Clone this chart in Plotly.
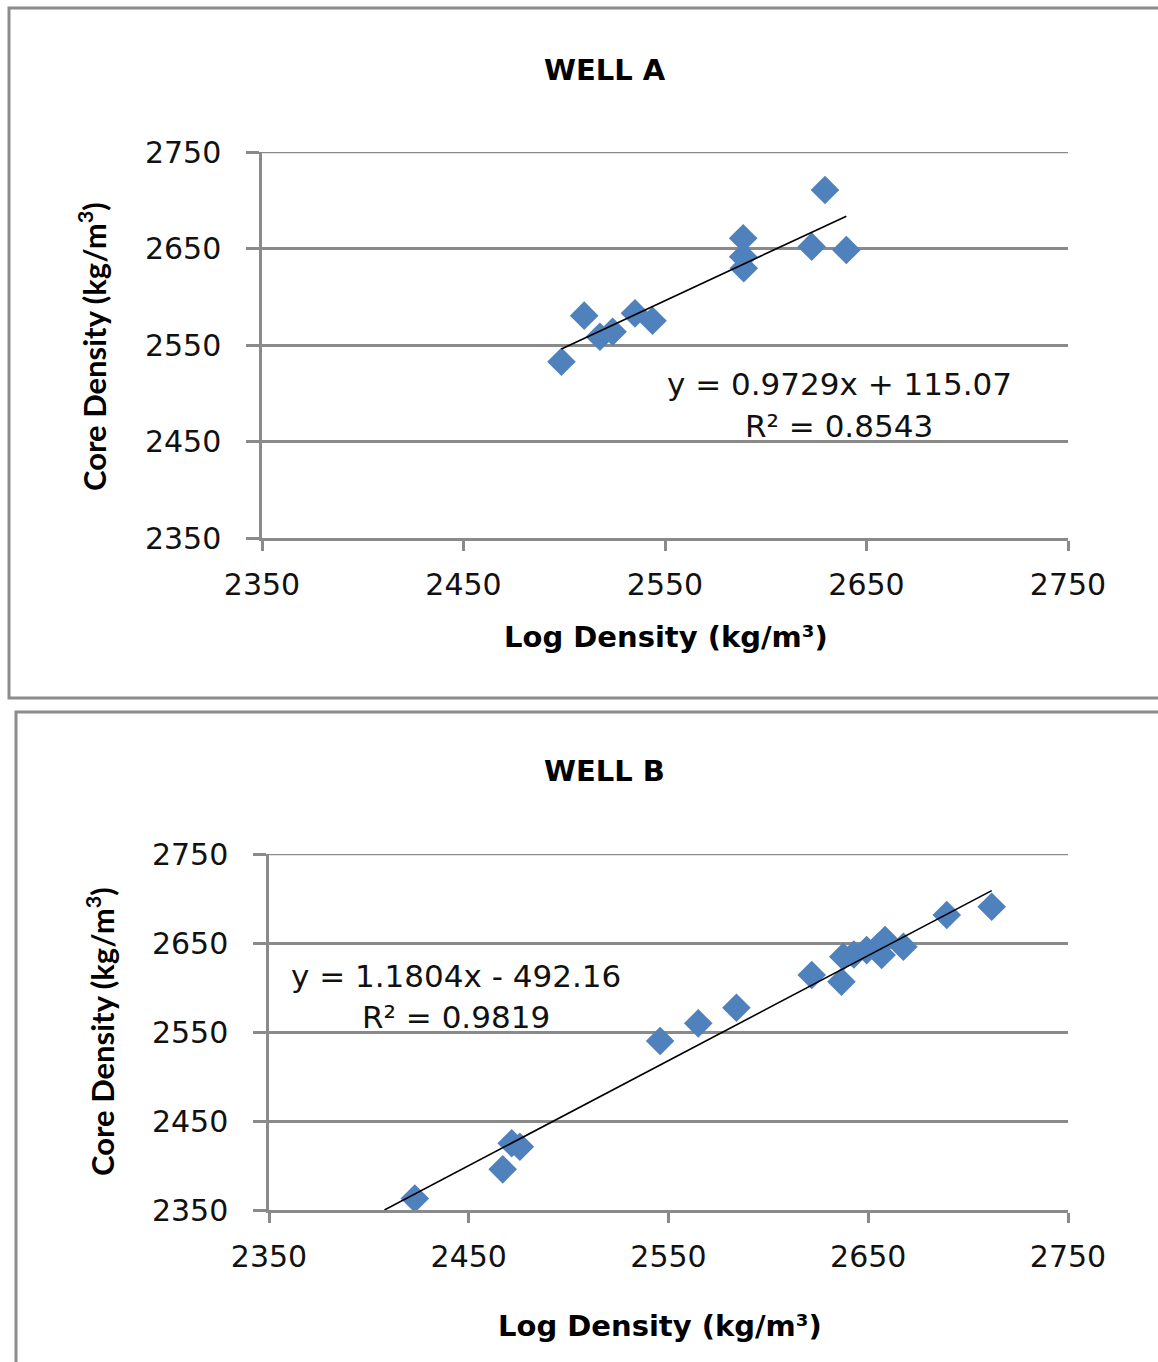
import plotly.graph_objects as go

# ---------------- data ----------------
tick_vals = [2350, 2450, 2550, 2650, 2750]
tick_text = ["2350", "2450", "2550", "2650", "2750"]

well_a_log = [2498.6, 2509.9, 2517.7, 2524.0, 2535.1, 2543.8, 2588.8, 2588.8, 2589.1, 2622.8, 2629.4, 2640.0]
well_a_core = [2532.7, 2580.4, 2558.6, 2563.8, 2582.8, 2575.2, 2660.6, 2641.5, 2629.5, 2651.9, 2710.6, 2648.4]
well_a_slope, well_a_intercept = 0.9729, 115.07
well_a_eq = "y = 0.9729x + 115.07"
well_a_r2 = "R² = 0.8543"

well_b_log = [2423.0, 2467.0, 2471.5, 2475.6, 2545.8, 2564.9, 2584.0, 2621.7, 2636.6, 2637.5,
              2642.8, 2649.2, 2655.0, 2656.7, 2658.4, 2667.6, 2689.3, 2711.8]
well_b_core = [2363.0, 2395.7, 2425.0, 2421.0, 2539.9, 2559.7, 2577.3, 2614.0, 2606.5, 2634.6,
               2637.0, 2642.0, 2645.8, 2636.5, 2653.4, 2645.8, 2681.5, 2690.8]
well_b_slope, well_b_intercept = 1.1804, -492.16
well_b_eq = "y = 1.1804x - 492.16"
well_b_r2 = "R² = 0.9819"

titles = ["WELL A", "WELL B"]
x_title = "Log Density (kg/m³)"
y_title = "Core Density (kg/m<sup>3</sup>)"

# ---------------- layout helpers ----------------
W, H = 1158, 1362
def px(x):
    return x / W
def py(y):
    return 1 - y / H

BLUE = "#4F81BD"
GREY = "#8a8a8a"
TICK_FONT = dict(family="DejaVu Sans", size=30, color="#111111")

fig = go.Figure()

# Well A
fig.add_trace(go.Scatter(x=well_a_log, y=well_a_core, mode="markers",
                         marker=dict(symbol="diamond", size=22, color=BLUE),
                         xaxis="x", yaxis="y", hoverinfo="x+y"))
a_x0, a_x1 = min(well_a_log), max(well_a_log)
fig.add_trace(go.Scatter(x=[a_x0, a_x1],
                         y=[well_a_slope * a_x0 + well_a_intercept, well_a_slope * a_x1 + well_a_intercept],
                         mode="lines", line=dict(color="black", width=1.6),
                         xaxis="x", yaxis="y", hoverinfo="skip"))

# Well B (trend line extends back to the axis floor and is clipped)
fig.add_trace(go.Scatter(x=well_b_log, y=well_b_core, mode="markers",
                         marker=dict(symbol="diamond", size=22, color=BLUE),
                         xaxis="x2", yaxis="y2", hoverinfo="x+y"))
b_x0 = (tick_vals[0] - well_b_intercept) / well_b_slope
b_x1 = max(well_b_log)
fig.add_trace(go.Scatter(x=[b_x0, b_x1],
                         y=[well_b_slope * b_x0 + well_b_intercept, well_b_slope * b_x1 + well_b_intercept],
                         mode="lines", line=dict(color="black", width=1.6),
                         xaxis="x2", yaxis="y2", hoverinfo="skip"))

common = dict(range=[2350, 2750], tickmode="array", tickvals=tick_vals, ticktext=tick_text,
              showline=True, linecolor=GREY, linewidth=2.5, ticks="outside",
              tickcolor=GREY, tickwidth=2.5, zeroline=False, tickfont=TICK_FONT,
              fixedrange=True, automargin=False)
xcommon = dict(common, showgrid=False, ticklen=10, ticklabelstandoff=8)
ycommon = dict(common, showgrid=True, gridcolor=GREY, gridwidth=2.5, ticklen=13,
               ticklabelstandoff=19)

fig.update_layout(
    width=W, height=H,
    margin=dict(l=0, r=0, t=0, b=0, autoexpand=False),
    paper_bgcolor="white", plot_bgcolor="white",
    showlegend=False,
    xaxis=dict(xcommon, domain=[px(262), px(1068)], anchor="y"),
    yaxis=dict(ycommon, domain=[py(538), py(152)], anchor="x"),
    xaxis2=dict(xcommon, domain=[px(269), px(1068)], anchor="y2"),
    yaxis2=dict(ycommon, domain=[py(1210), py(854)], anchor="x2"),
)

# chart borders
fig.add_shape(type="rect", xref="paper", yref="paper",
              x0=px(9), x1=px(1175), y0=py(698), y1=py(8),
              line=dict(color="#8c8c8c", width=3), fillcolor="rgba(0,0,0,0)", layer="below")
fig.add_shape(type="rect", xref="paper", yref="paper",
              x0=px(16), x1=px(1175), y0=py(1390), y1=py(712),
              line=dict(color="#8c8c8c", width=3), fillcolor="rgba(0,0,0,0)", layer="below")
# top gridline at the range edge (plotly omits it)
for xr, yr in (("x domain", "y"), ("x2 domain", "y2")):
    fig.add_shape(type="line", xref=xr, yref=yr, x0=0, x1=1, y0=tick_vals[-1], y1=tick_vals[-1],
                  line=dict(color=GREY, width=2.5), layer="below")

TITLE_FONT = dict(family="DejaVu Sans", size=29, color="black", weight="bold")
XT_FONT = dict(family="DejaVu Sans", size=29, color="black", weight="bold")
YT_FONT = dict(family="Lato", size=31, color="black", weight="bold")
EQ_FONT = dict(family="DejaVu Sans", size=31, color="#111111")

ann = []
def text(x, y, s, font, angle=0):
    ann.append(dict(x=px(x), y=py(y), xref="paper", yref="paper", text=s, showarrow=False,
                    xanchor="center", yanchor="middle", font=font, textangle=angle))

text(605, 70, titles[0], TITLE_FONT)
text(604, 771, titles[1], TITLE_FONT)
text(666, 637, x_title, XT_FONT)
text(660, 1326, x_title, XT_FONT)
text(92, 347, y_title, YT_FONT, -90)
text(100, 1032, y_title, YT_FONT, -90)
text(839, 384, well_a_eq, EQ_FONT)
text(839, 426, well_a_r2, EQ_FONT)
text(456, 976, well_b_eq, EQ_FONT)
text(456, 1017, well_b_r2, EQ_FONT)
fig.update_layout(annotations=ann)

fig.write_html("out.html", config={"displayModeBar": False},
               post_script="document.body.style.margin='0';document.body.style.overflow='hidden';")
